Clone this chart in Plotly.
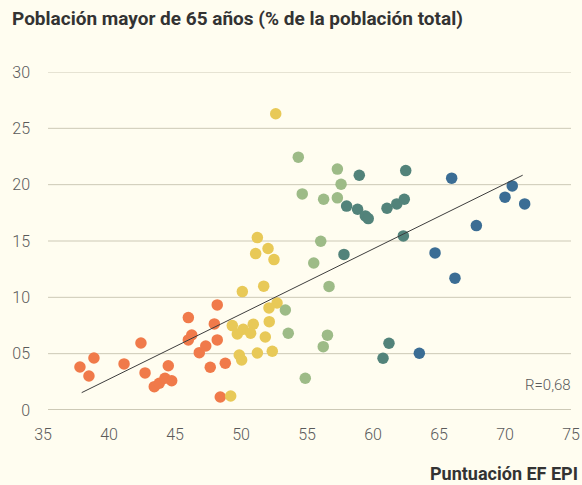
import plotly.graph_objects as go

# ---- data ----
orange_x = [37.80, 38.48, 38.86, 41.14, 42.42, 42.73, 43.43, 43.81, 44.24, 44.75, 44.49,
            46.01, 46.27, 46.01, 46.84, 47.33, 47.67, 48.20, 47.98, 48.20, 48.81, 48.43]
orange_y = [3.82, 3.02, 4.62, 4.09, 5.95, 3.29, 2.07, 2.37, 2.82, 2.60, 3.93,
            8.20, 6.66, 6.22, 5.09, 5.68, 3.79, 9.33, 7.64, 6.22, 4.15, 1.15]

yellow_x = [52.63, 51.24, 52.05, 51.11, 52.50, 51.72, 50.10, 52.73, 52.12, 49.34, 50.17,
            50.93, 49.72, 50.73, 52.14, 51.84, 49.87, 50.05, 51.24, 52.37, 49.22]
yellow_y = [26.29, 15.30, 14.33, 13.88, 13.35, 10.99, 10.51, 9.50, 9.06, 7.49, 7.17,
            7.61, 6.75, 6.81, 7.84, 6.48, 4.88, 4.44, 5.06, 5.21, 1.24]

green_x = [54.34, 57.30, 57.58, 54.64, 56.26, 57.30, 56.04, 55.51, 56.67, 53.36, 53.58,
           56.55, 56.23, 54.87]
green_y = [22.44, 21.38, 20.04, 19.18, 18.71, 18.83, 14.98, 13.05, 10.97, 8.88, 6.81,
           6.64, 5.62, 2.82]

teal_x = [58.96, 62.48, 58.00, 58.83, 59.42, 59.64, 61.06, 61.80, 62.37, 62.30, 57.80,
          61.21, 60.76]
teal_y = [20.84, 21.25, 18.10, 17.82, 17.23, 16.99, 17.91, 18.29, 18.71, 15.45, 13.81,
          5.92, 4.59]

blue_x = [65.96, 70.55, 70.00, 71.49, 67.83, 64.70, 66.21, 63.51]
blue_y = [20.58, 19.89, 18.89, 18.29, 16.37, 13.94, 11.70, 5.04]

trend_x = [37.93, 71.34]
trend_y = [1.54, 20.84]

x_ticks = [35, 40, 45, 50, 55, 60, 65, 70, 75]
y_ticks = [0, 5, 10, 15, 20, 25, 30]
y_ticktext = ["0", "05", "10", "15", "20", "25", "30"]

title_text = "Población mayor de 65 años (% de la población total)"
xaxis_title = "Puntuación EF EPI"
r_text = "R=0,68"

# ---- styles ----
BG = "#FFFDF0"
GRID = "#CDC9B6"
TICK_COLOR = "#5a5a5a"
series = [
    (orange_x, orange_y, "#F07A4A"),
    (yellow_x, yellow_y, "#E8C957"),
    (green_x, green_y, "#9DBB87"),
    (teal_x, teal_y, "#52837A"),
    (blue_x, blue_y, "#3B6D94"),
]

fig = go.Figure()

for xs, ys, col in series:
    fig.add_trace(go.Scatter(
        x=xs, y=ys, mode="markers",
        marker=dict(size=11.5, color=col, line=dict(width=0)),
        showlegend=False, hoverinfo="skip",
    ))

fig.add_trace(go.Scatter(
    x=trend_x, y=trend_y, mode="lines",
    line=dict(color="#3d3d3d", width=1),
    showlegend=False, hoverinfo="skip",
))

shapes = []
for v in y_ticks:
    shapes.append(dict(
        type="line", xref="paper", yref="y", x0=0.0095, x1=1.0, y0=v, y1=v,
        line=dict(color=GRID, width=2 if v == 0 else 1), layer="below",
    ))

fig.update_layout(
    width=582, height=485,
    margin=dict(l=43, r=11, t=72, b=75),
    paper_bgcolor=BG, plot_bgcolor=BG,
    font=dict(family="Roboto", color=TICK_COLOR),
    shapes=shapes,
    xaxis=dict(
        range=[35, 75], tickvals=x_ticks, ticktext=[str(v) for v in x_ticks],
        showgrid=False, zeroline=False, showline=False, ticks="",
        automargin=False,
        tickfont=dict(family="Roboto", size=16, color=TICK_COLOR, weight=300),
        ticklabelstandoff=13,
    ),
    yaxis=dict(
        range=[0, 30], tickvals=y_ticks, ticktext=y_ticktext,
        showgrid=False, zeroline=False, showline=False, ticks="",
        automargin=False,
        tickfont=dict(family="Roboto", size=16, color=TICK_COLOR, weight=300),
        ticklabelstandoff=12,
    ),
    annotations=[
        dict(text=title_text, xref="paper", yref="paper", x=0, y=1,
             xshift=-33, yshift=54, xanchor="left", yanchor="middle",
             showarrow=False,
             font=dict(family="Roboto", size=19, color="#333333", weight="bold")),
        dict(text=xaxis_title, xref="paper", yref="paper", x=1, y=0,
             xshift=9, yshift=-63, xanchor="right", yanchor="middle",
             showarrow=False,
             font=dict(family="Roboto", size=18, color="#333333", weight="bold")),
        dict(text=r_text, xref="paper", yref="paper", x=1, y=0,
             xshift=2, yshift=25, xanchor="right", yanchor="middle",
             showarrow=False,
             font=dict(family="Roboto", size=15, color=TICK_COLOR, weight=300)),
    ],
)

fig.write_html(
    "out.html",
    config={"displayModeBar": False},
    post_script="document.body.style.margin='0';document.body.style.background='#FFFDF0';",
)
